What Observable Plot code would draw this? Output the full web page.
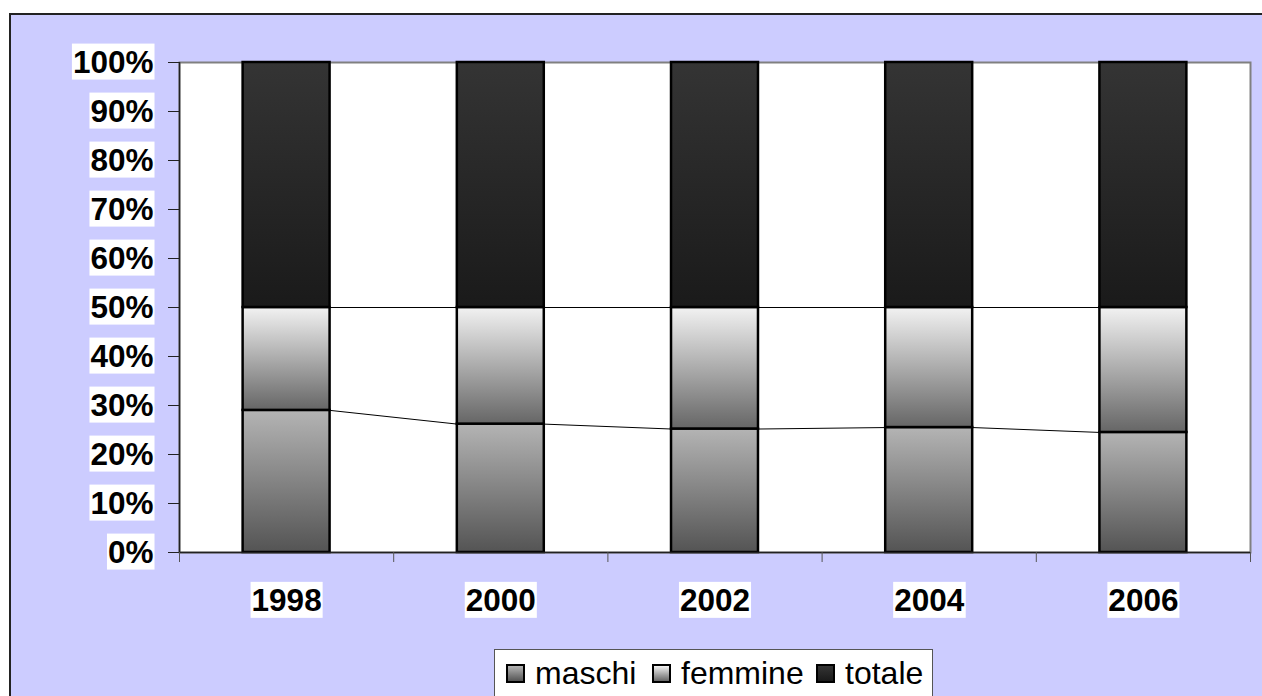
<!DOCTYPE html>
<html><head><meta charset="utf-8">
<script src="https://cdn.jsdelivr.net/npm/d3@7"></script>
<script src="https://cdn.jsdelivr.net/npm/@observablehq/plot@0.6"></script>
<style>
body{margin:0;background:#fff;}
#wrap{position:relative;width:1262px;height:696px;overflow:hidden;font-family:"Liberation Sans",Arial,sans-serif;}
#bg{position:absolute;left:9px;top:13px;width:1300px;height:720px;background:#ccccff;border-top:2px solid #222;border-left:2px solid #222;}
#chart{position:absolute;left:0;top:0;}
#legend{position:absolute;left:494px;top:649px;width:439px;height:48px;background:#fff;border:1px solid #555;box-sizing:border-box;font-size:32px;color:#000;white-space:nowrap;}
#legend .it{position:absolute;top:0;height:46px;display:flex;align-items:center;}
#legend .sw{display:inline-block;width:19px;height:19px;border:2px solid #000;box-sizing:border-box;margin-right:10px;}
</style></head>
<body>
<div id="wrap">
  <div id="bg"></div>
  <div id="chart"></div>
  <div id="legend"></div>
</div>
<script>
const years = ["1998", "2000", "2002", "2004", "2006"];
const seriesNames = ["maschi", "femmine", "totale"];
const maschi  = [58.0, 52.4, 50.4, 51.0, 49.0];
const femmine = [42.0, 47.6, 49.6, 49.0, 51.0];
const totale  = [100, 100, 100, 100, 100];
const gradients = {
  maschi:  ["#b4b4b4", "#545454"],
  femmine: ["#f2f2f2", "#666666"],
  totale:  ["#343434", "#1a1a1a"]
};
const barFrac = 0.406;

const rows = [];
const cum = {maschi: [], femmine: [], totale: []};
years.forEach((yr, i) => {
  const vals = [maschi[i], femmine[i], totale[i]];
  const sum = d3.sum(vals);
  let c = 0;
  vals.forEach((v, k) => {
    rows.push({i, year: yr, series: seriesNames[k], y1: c / sum, y2: (c + v) / sum});
    c += v;
    cum[seriesNames[k]].push(c / sum);
  });
});
const links = [];
["maschi", "femmine"].forEach(s => {
  for (let i = 0; i < years.length - 1; i++) {
    links.push({x1: i + 0.5 + barFrac / 2, x2: i + 1.5 - barFrac / 2, y1: cum[s][i], y2: cum[s][i + 1]});
  }
});

const plot = Plot.plot({
  width: 1262, height: 696,
  marginLeft: 179, marginRight: 12, marginTop: 62, marginBottom: 144,
  style: {background: "transparent", fontFamily: "'Liberation Sans', Arial, sans-serif", color: "#000"},
  x: {type: "linear", domain: [0, years.length], axis: null},
  y: {domain: [0, 1], axis: null},
  color: {domain: seriesNames, range: seriesNames.map(s => `url(#g-${s})`)},
  marks: [
    Plot.frame({fill: "white", stroke: "#808080", strokeWidth: 2}),
    Plot.rectY(rows, {x1: d => d.i + 0.5 - barFrac / 2, x2: d => d.i + 0.5 + barFrac / 2, y1: "y1", y2: "y2", fill: "series", stroke: "#000", strokeWidth: 2.5}),
    Plot.link(links, {x1: "x1", x2: "x2", y1: "y1", y2: "y2", stroke: "#000", strokeWidth: 1}),
    Plot.ruleX([0], {stroke: "#222", strokeWidth: 1.5}),
    Plot.ruleY([0], {stroke: "#222", strokeWidth: 1.5}),
    Plot.axisY({ticks: d3.range(0, 11).map(d => d / 10), tickFormat: d3.format(".0%"), tickSize: 11, tickPadding: 15, fontSize: 31.5, fontWeight: "bold", stroke: "#222"}),
    Plot.axisX({ticks: d3.range(0, years.length + 1), tickFormat: () => "", tickSize: 10, stroke: "#555"}),
    Plot.axisX({ticks: years.map((_, i) => i + 0.5), tickFormat: v => years[Math.floor(v)], tickSize: 0, tickPadding: 36, fontSize: 31.5, fontWeight: "bold"})
  ]
});
document.getElementById("chart").appendChild(plot);

const svg = d3.select(plot);
const defs = svg.insert("defs", ":first-child");
seriesNames.forEach(s => {
  const g = defs.append("linearGradient").attr("id", `g-${s}`).attr("x1", 0).attr("y1", 0).attr("x2", 0).attr("y2", 1);
  g.append("stop").attr("offset", "0%").attr("stop-color", gradients[s][0]);
  g.append("stop").attr("offset", "100%").attr("stop-color", gradients[s][1]);
});
svg.selectAll("text").each(function() {
  if (!this.textContent) return;
  const b = this.getBBox();
  const r = document.createElementNS("http://www.w3.org/2000/svg", "rect");
  r.setAttribute("x", b.x - 1);
  r.setAttribute("y", b.y);
  r.setAttribute("width", b.width + 2);
  r.setAttribute("height", b.height);
  r.setAttribute("fill", "#fff");
  r.setAttribute("stroke", "none");
  const t = this.getAttribute("transform");
  if (t) r.setAttribute("transform", t);
  this.parentNode.insertBefore(r, this);
});

const legend = document.getElementById("legend");
const legendX = [11, 157, 321];
seriesNames.forEach((s, k) => {
  const it = document.createElement("div");
  it.className = "it";
  it.style.left = legendX[k] + "px";
  const sw = document.createElement("span");
  sw.className = "sw";
  sw.style.background = `linear-gradient(to bottom, ${gradients[s][0]}, ${gradients[s][1]})`;
  it.appendChild(sw);
  it.appendChild(document.createTextNode(s));
  legend.appendChild(it);
});
</script>
</body></html>
